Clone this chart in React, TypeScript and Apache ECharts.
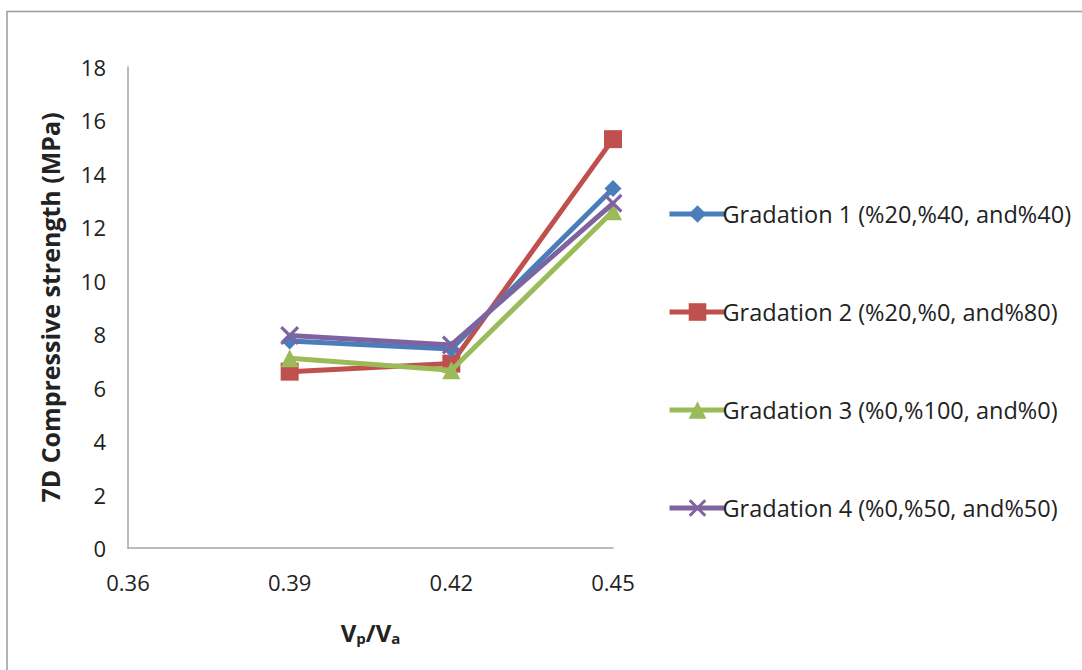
import React, { useEffect, useRef } from "react";
import * as echarts from "echarts";

const ratios = [0.39, 0.42, 0.45];
const gradation1 = [7.75, 7.45, 13.45];
const gradation2 = [6.6, 6.9, 15.3];
const gradation3 = [7.1, 6.65, 12.6];
const gradation4 = [7.95, 7.6, 12.9];
const seriesNames = [
  "Gradation 1 (%20,%40, and%40)",
  "Gradation 2 (%20,%0, and%80)",
  "Gradation 3 (%0,%100, and%0)",
  "Gradation 4 (%0,%50, and%50)",
];
const colors = ["#4A7EBB", "#C0504D", "#9BBB59", "#7F63A1"];

const FONT = "'Open Sans', 'Liberation Sans', sans-serif";
const CROSS =
  "path://M0,1.2L1.2,0L5,3.8L8.8,0L10,1.2L6.2,5L10,8.8L8.8,10L5,6.2L1.2,10L0,8.8L3.8,5Z";

export default function App() {
  const ref = useRef<HTMLDivElement>(null);

  useEffect(() => {
    if (!ref.current) return;
    const chart = echarts.init(ref.current, undefined, { renderer: "svg" });
    const pairs = (ys: number[]) => ratios.map((x, i) => [x, ys[i]]);
    const all = [gradation1, gradation2, gradation3, gradation4];
    const symbols = ["diamond", "rect", "triangle", CROSS];
    const sizes = [17, 18, 18, 19];

    chart.setOption({
      animation: false,
      backgroundColor: "#ffffff",
      textStyle: { fontFamily: FONT },
      grid: { left: 128, right: 469, top: 67, bottom: 122, containLabel: false },
      graphic: [
        {
          type: "polyline",
          shape: { points: [[7, 670], [7, 11.5], [1082, 11.5]] },
          style: { stroke: "#9a9a9a", lineWidth: 1.5, fill: null },
        },
      ],
      xAxis: {
        type: "value",
        min: 0.36,
        max: 0.45,
        interval: 0.03,
        splitLine: { show: false },
        axisTick: { show: false },
        axisLine: { lineStyle: { color: "#a6a6a6", width: 1.5 } },
        axisLabel: {
          color: "#222",
          fontSize: 22,
          margin: 23,
          fontFamily: FONT,
          formatter: (v: number) => v.toFixed(2),
        },
        name: "{b|V}{s|p}{b|/V}{s|a}",
        nameLocation: "middle",
        nameGap: 72,
        nameTextStyle: {
          rich: {
            b: { fontSize: 24, fontWeight: "bold", color: "#222", fontFamily: FONT },
            s: {
              fontSize: 15,
              fontWeight: "bold",
              color: "#222",
              fontFamily: FONT,
              verticalAlign: "bottom",
              padding: [10, 0, 0, 0],
            },
          },
        },
      },
      yAxis: {
        type: "value",
        min: 0,
        max: 18,
        interval: 2,
        splitLine: { show: false },
        axisTick: { show: false },
        axisLine: { show: true, lineStyle: { color: "#a6a6a6", width: 1.5 } },
        axisLabel: { color: "#222", fontSize: 22, margin: 22, fontFamily: FONT },
        name: "7D Compressive strength (MPa)",
        nameLocation: "middle",
        nameGap: 66,
        nameTextStyle: { fontSize: 25, fontWeight: "bold", color: "#222", fontFamily: FONT },
      },
      legend: {
        orient: "vertical",
        left: 662,
        top: 197,
        itemWidth: 56,
        itemHeight: 22,
        itemGap: 74,
        lineStyle: { width: 5 },
        textStyle: { fontSize: 23.5, color: "#222", fontFamily: FONT, padding: [0, 0, 0, -8] },
        data: seriesNames,
      },
      series: all.map((ys, i) => ({
        name: seriesNames[i],
        type: "line",
        data: pairs(ys),
        symbol: symbols[i],
        symbolSize: sizes[i],
        lineStyle: { width: 5, color: colors[i] },
        itemStyle: { color: colors[i] },
        z: i === 0 ? 5 : 2 + i,
      })),
    });
    return () => chart.dispose();
  }, []);

  return (
    <div
      ref={ref}
      style={{ position: "fixed", left: 0, top: 0, width: 1082, height: 670 }}
    />
  );
}
